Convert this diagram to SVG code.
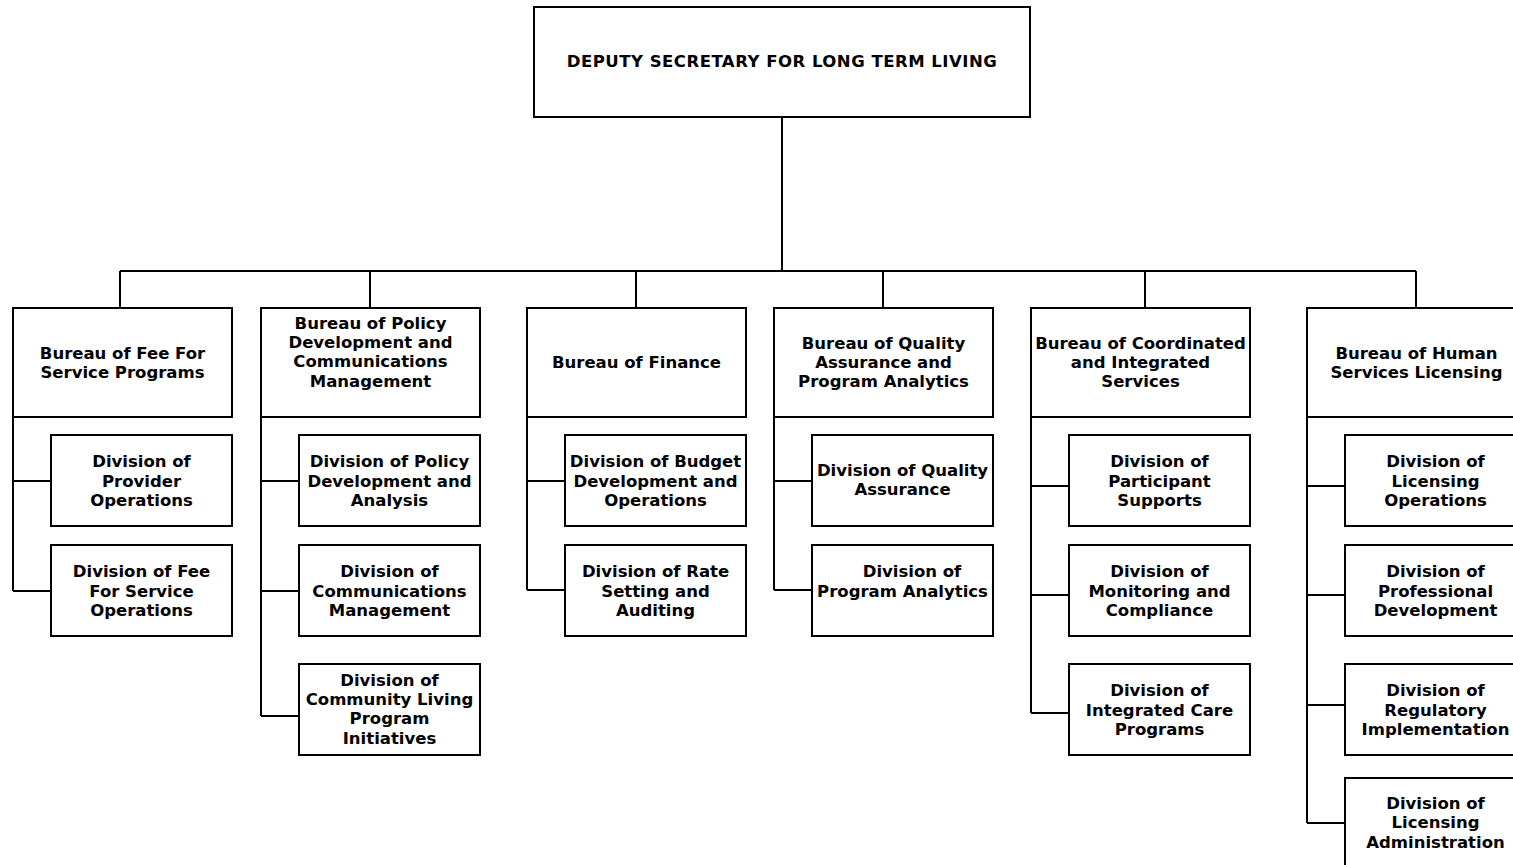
<svg xmlns="http://www.w3.org/2000/svg" width="1513" height="865" viewBox="0 0 1513 865">
<style>
.box{fill:#fff;stroke:#000;stroke-width:2}
.lbl{font-family:"DejaVu Sans","Verdana",sans-serif;font-weight:bold;font-size:16.5px;fill:#000;text-anchor:middle}
.conn{fill:none;stroke:#000;stroke-width:2}
</style>
<rect width="1513" height="865" fill="#fff"/>
<g id="connectors" class="conn">
<path d="M782 117V271M120 271H1416M120 271V308M370 271V308M636 271V308M883 271V308M1145 271V308M1416 271V308"/>
<path d="M13 417V591M13 481H51M13 591H51"/>
<path d="M261 417V716M261 481H299M261 591H299M261 716H299"/>
<path d="M527 417V590M527 481H565M527 590H565"/>
<path d="M774 417V590M774 481H812M774 590H812"/>
<path d="M1031 417V713M1031 486H1069M1031 595H1069M1031 713H1069"/>
<path d="M1307 417V823M1307 486H1345M1307 595H1345M1307 705H1345M1307 823H1345"/>
</g>
<g id="deputy"><rect class="box" x="534" y="7" width="496" height="110"/><text class="lbl" x="782" y="67" letter-spacing="0.5">DEPUTY SECRETARY FOR LONG TERM LIVING</text></g>

<g id="bureau-ffs"><rect class="box" x="13" y="308" width="219" height="109"/><text class="lbl"><tspan x="122.5" y="358.8">Bureau of Fee For</tspan><tspan x="122.5" y="378.2">Service Programs</tspan></text></g>
<g id="div-provider"><rect class="box" x="51" y="435" width="181" height="91"/><text class="lbl"><tspan x="141.5" y="467.1">Division of</tspan><tspan x="141.5" y="486.5">Provider</tspan><tspan x="141.5" y="505.9">Operations</tspan></text></g>
<g id="div-ffs-ops"><rect class="box" x="51" y="545" width="181" height="91"/><text class="lbl"><tspan x="141.5" y="577.1">Division of Fee</tspan><tspan x="141.5" y="596.5">For Service</tspan><tspan x="141.5" y="615.9">Operations</tspan></text></g>

<g id="bureau-policy"><rect class="box" x="261" y="308" width="219" height="109"/><text class="lbl"><tspan x="370.5" y="328.5">Bureau of Policy</tspan><tspan x="370.5" y="347.9">Development and</tspan><tspan x="370.5" y="367.3">Communications</tspan><tspan x="370.5" y="386.7">Management</tspan></text></g>
<g id="div-policy"><rect class="box" x="299" y="435" width="181" height="91"/><text class="lbl"><tspan x="389.5" y="467.1">Division of Policy</tspan><tspan x="389.5" y="486.5">Development and</tspan><tspan x="389.5" y="505.9">Analysis</tspan></text></g>
<g id="div-comm"><rect class="box" x="299" y="545" width="181" height="91"/><text class="lbl"><tspan x="389.5" y="577.1">Division of</tspan><tspan x="389.5" y="596.5">Communications</tspan><tspan x="389.5" y="615.9">Management</tspan></text></g>
<g id="div-community"><rect class="box" x="299" y="664" width="181" height="91"/><text class="lbl"><tspan x="389.5" y="685.5">Division of</tspan><tspan x="389.5" y="704.9">Community Living</tspan><tspan x="389.5" y="724.3">Program</tspan><tspan x="389.5" y="743.7">Initiatives</tspan></text></g>

<g id="bureau-finance"><rect class="box" x="527" y="308" width="219" height="109"/><text class="lbl" x="636.5" y="367.5">Bureau of Finance</text></g>
<g id="div-budget"><rect class="box" x="565" y="435" width="181" height="91"/><text class="lbl"><tspan x="655.5" y="467.1">Division of Budget</tspan><tspan x="655.5" y="486.5">Development and</tspan><tspan x="655.5" y="505.9">Operations</tspan></text></g>
<g id="div-rate"><rect class="box" x="565" y="545" width="181" height="91"/><text class="lbl"><tspan x="655.5" y="577.1">Division of Rate</tspan><tspan x="655.5" y="596.5">Setting and</tspan><tspan x="655.5" y="615.9">Auditing</tspan></text></g>

<g id="bureau-quality"><rect class="box" x="774" y="308" width="219" height="109"/><text class="lbl"><tspan x="883.5" y="348.5">Bureau of Quality</tspan><tspan x="883.5" y="367.9">Assurance and</tspan><tspan x="883.5" y="387.3">Program Analytics</tspan></text></g>
<g id="div-qa"><rect class="box" x="812" y="435" width="181" height="91"/><text class="lbl"><tspan x="902.5" y="476">Division of Quality</tspan><tspan x="902.5" y="495.4">Assurance</tspan></text></g>
<g id="div-analytics"><rect class="box" x="812" y="545" width="181" height="91"/><text class="lbl"><tspan x="912" y="577.1">Division of</tspan><tspan x="902.5" y="596.5">Program Analytics</tspan></text></g>

<g id="bureau-coordinated"><rect class="box" x="1031" y="308" width="219" height="109"/><text class="lbl"><tspan x="1140.5" y="348.5">Bureau of Coordinated</tspan><tspan x="1140.5" y="367.9">and Integrated</tspan><tspan x="1140.5" y="387.3">Services</tspan></text></g>
<g id="div-participant"><rect class="box" x="1069" y="435" width="181" height="91"/><text class="lbl"><tspan x="1159.5" y="467.1">Division of</tspan><tspan x="1159.5" y="486.5">Participant</tspan><tspan x="1159.5" y="505.9">Supports</tspan></text></g>
<g id="div-monitoring"><rect class="box" x="1069" y="545" width="181" height="91"/><text class="lbl"><tspan x="1159.5" y="577.1">Division of</tspan><tspan x="1159.5" y="596.5">Monitoring and</tspan><tspan x="1159.5" y="615.9">Compliance</tspan></text></g>
<g id="div-integrated"><rect class="box" x="1069" y="664" width="181" height="91"/><text class="lbl"><tspan x="1159.5" y="696.1">Division of</tspan><tspan x="1159.5" y="715.5">Integrated Care</tspan><tspan x="1159.5" y="734.9">Programs</tspan></text></g>

<g id="bureau-hsl"><rect class="box" x="1307" y="308" width="219" height="109"/><text class="lbl"><tspan x="1416.5" y="358.8">Bureau of Human</tspan><tspan x="1416.5" y="378.2">Services Licensing</tspan></text></g>
<g id="div-lic-ops"><rect class="box" x="1345" y="435" width="181" height="91"/><text class="lbl"><tspan x="1435.5" y="467.1">Division of</tspan><tspan x="1435.5" y="486.5">Licensing</tspan><tspan x="1435.5" y="505.9">Operations</tspan></text></g>
<g id="div-prof"><rect class="box" x="1345" y="545" width="181" height="91"/><text class="lbl"><tspan x="1435.5" y="577.1">Division of</tspan><tspan x="1435.5" y="596.5">Professional</tspan><tspan x="1435.5" y="615.9">Development</tspan></text></g>
<g id="div-regulatory"><rect class="box" x="1345" y="664" width="181" height="91"/><text class="lbl"><tspan x="1435.5" y="696.1">Division of</tspan><tspan x="1435.5" y="715.5">Regulatory</tspan><tspan x="1435.5" y="734.9">Implementation</tspan></text></g>
<g id="div-lic-admin"><rect class="box" x="1345" y="778" width="181" height="91"/><text class="lbl"><tspan x="1435.5" y="809">Division of</tspan><tspan x="1435.5" y="828.4">Licensing</tspan><tspan x="1435.5" y="847.8">Administration</tspan></text></g>
</svg>
